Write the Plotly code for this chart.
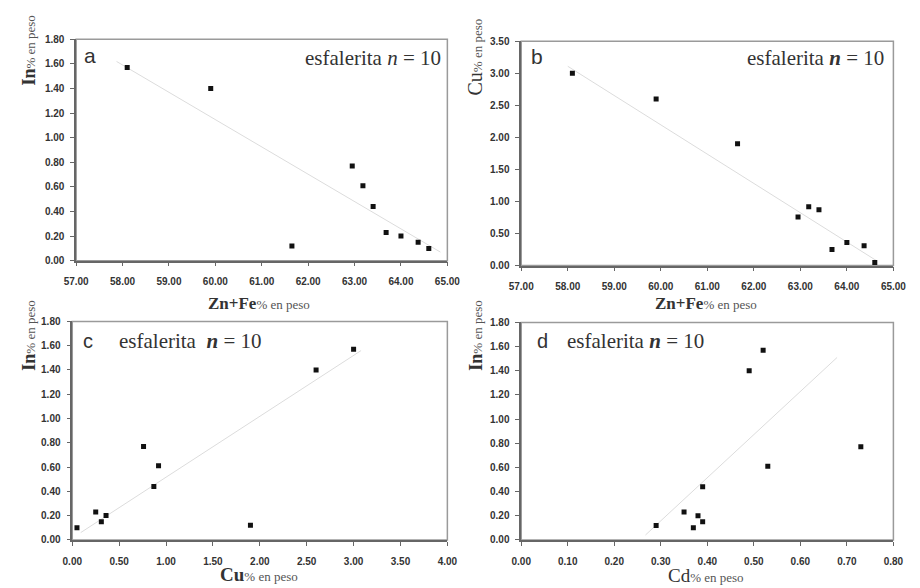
import plotly.graph_objects as go

# ---- data (10 sphalerite analyses) ----
zn_fe = [58.10, 59.90, 61.65, 62.95, 63.18, 63.40, 63.68, 64.00, 64.37, 64.60]
indium = [1.57, 1.40, 0.12, 0.77, 0.61, 0.44, 0.23, 0.20, 0.15, 0.10]
copper = [3.00, 2.60, 1.90, 0.76, 0.92, 0.87, 0.25, 0.36, 0.31, 0.05]
cadmium = [0.52, 0.49, 0.29, 0.73, 0.53, 0.39, 0.35, 0.38, 0.39, 0.37]

# trend lines (end points)
trend_a_x = [57.87, 64.85]
trend_a_y = [1.62, 0.07]
trend_b_x = [58.00, 64.63]
trend_b_y = [3.11, 0.08]
trend_c_x = [0.09, 3.08]
trend_c_y = [0.06, 1.56]
trend_d_x = [0.267, 0.679]
trend_d_y = [0.04, 1.51]

W, H = 920, 588
def px(x): return x / W
def py(y): return 1 - y / H

fig = go.Figure()

panels = [
    (zn_fe, indium, trend_a_x, trend_a_y, ""),
    (zn_fe, copper, trend_b_x, trend_b_y, "2"),
    (copper, indium, trend_c_x, trend_c_y, "3"),
    (cadmium, indium, trend_d_x, trend_d_y, "4"),
]
for xs, ys, tx, ty, s in panels:
    fig.add_trace(go.Scatter(x=tx, y=ty, mode="lines", xaxis="x" + s, yaxis="y" + s,
                             line=dict(color="#dcdcdc", width=1), showlegend=False,
                             hoverinfo="skip"))
    fig.add_trace(go.Scatter(x=xs, y=ys, mode="markers", xaxis="x" + s, yaxis="y" + s,
                             marker=dict(symbol="square", size=5, color="#111111"),
                             showlegend=False))

tickfont = dict(family="Liberation Sans", size=10, color="#333333", weight="bold")

def xax(domain, rng, dtick, anchor):
    return dict(domain=domain, range=rng, dtick=dtick, tick0=rng[0], anchor=anchor,
                showgrid=False, zeroline=False, showline=True, linecolor="#666666",
                linewidth=1.5, ticks="outside", ticklen=4, tickcolor="#666666",
                tickwidth=1, tickformat=".2f", tickfont=tickfont,
                ticklabelstandoff=7)

def yax(domain, rng, dtick, anchor):
    return dict(domain=domain, range=rng, dtick=dtick, tick0=0, anchor=anchor,
                showgrid=False, zeroline=False, showline=True, linecolor="#666666",
                linewidth=1.5, ticks="outside", ticklen=4, tickcolor="#666666",
                tickwidth=1, tickformat=".2f", tickfont=tickfont,
                ticklabelstandoff=4)

layout = dict(
    width=W, height=H, margin=dict(l=0, r=0, t=0, b=0),
    paper_bgcolor="white", plot_bgcolor="white",
    xaxis=xax([px(65), px(447)], [57, 65], 1, "y"),
    yaxis=yax([py(260), py(34)], [0, 1.8], 0.2, "x"),
    xaxis2=xax([px(523), px(906)], [57, 65], 1, "y2"),
    yaxis2=yax([py(265), py(36)], [0, 3.5], 0.5, "x2"),
    xaxis3=xax([px(61), px(447)], [0, 4], 0.5, "y3"),
    yaxis3=yax([py(545), py(322)], [0, 1.8], 0.2, "x3"),
    xaxis4=xax([px(523), px(906)], [0, 0.8], 0.1, "y4"),
    yaxis4=yax([py(545), py(323)], [0, 1.8], 0.2, "x4"),
)
fig.update_layout(**layout)

shapes = []
for s in ["", "2", "3", "4"]:
    shapes.append(dict(type="rect", xref="x%s domain" % s, yref="y%s domain" % s,
                       x0=0, x1=1, y0=0, y1=1, layer="below",
                       line=dict(color="#9a9a9a", width=1.5)))
fig.update_layout(shapes=shapes)

serif = "Liberation Serif, Times New Roman, serif"
sans = "Liberation Sans, Arial, sans-serif"
small = "<span style='font-size:13px;font-weight:normal;fill:#555555'>% en peso</span>"

ann = []
def add(text, x, y, size=16, family=serif, angle=0, xanchor="center", color="#333333"):
    ann.append(dict(text=text, x=px(x), y=py(y), xref="paper", yref="paper",
                    showarrow=False, xanchor=xanchor, yanchor="middle",
                    textangle=angle, font=dict(family=family, size=size, color=color)))

# x titles
add("<b>Zn+Fe</b>" + small, 253, 304, 17)
add("<b>Zn+Fe</b>" + small, 713, 304, 17)
add("<b>Cu</b>" + small, 253, 580, 19)
add("Cd" + small, 713, 581, 19)
# y titles
add("<b>In</b>" + small, 17, 46, 18, angle=-90)
add("Cu" + small, 475, 52, 20, angle=-90)
add("<b>In</b>" + small, 17, 337, 18, angle=-90)
add("<b>In</b>" + small, 477, 337, 18, angle=-90)

# panel letters
add("a", 79, 51, 21, sans)
add("b", 539, 52, 21, sans)
add("c", 77, 342, 20, sans)
add("d", 545, 342, 20, sans)

# sample labels
add("esfalerita <i>n</i> = 10", 443, 53, 21, xanchor="right")
add("esfalerita <b><i>n</i></b> = 10", 898, 53, 21, xanchor="right")
add("esfalerita  <b><i>n</i></b> = 10", 107, 342, 21, xanchor="left")
add("esfalerita <b><i>n</i></b> = 10", 568, 342, 21, xanchor="left")

fig.update_layout(annotations=ann)

fig.write_html("out.html", config={"displayModeBar": False})

# remove the browser's default page margin so the figure sits at the window origin
with open("out.html", "r", encoding="utf-8") as f:
    html = f.read()
html = html.replace("<head>", "<head><style>html,body{margin:0;padding:0;}</style>", 1)
with open("out.html", "w", encoding="utf-8") as f:
    f.write(html)
